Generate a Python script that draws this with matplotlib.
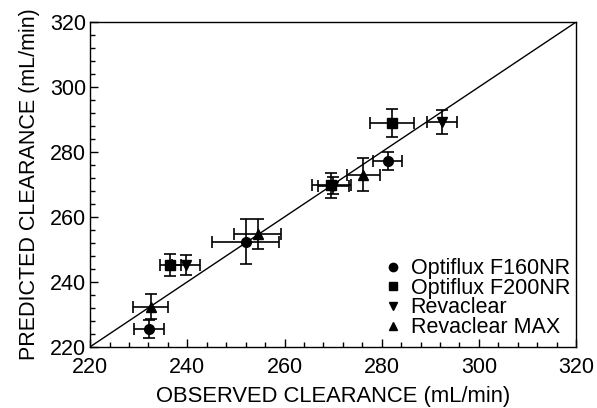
import matplotlib.pyplot as plt
from matplotlib.ticker import MultipleLocator

plt.rcParams['font.family'] = ['Liberation Sans', 'DejaVu Sans']

# observed / predicted clearance (mL/min) with error bars
f160_obs = [232.2, 252.0, 281.2]
f160_pred = [225.5, 252.4, 277.2]
f160_xerr = [3.1, 6.9, 2.9]
f160_yerr = [2.8, 7.0, 2.7]

f200_obs = [236.5, 269.6, 282.1]
f200_pred = [245.1, 269.7, 288.9]
f200_xerr = [2.2, 4.0, 4.6]
f200_yerr = [3.4, 3.8, 4.2]

reva_obs = [239.8, 270.0, 292.4]
reva_pred = [245.2, 269.6, 289.1]
reva_xerr = [2.9, 3.2, 3.1]
reva_yerr = [3.0, 2.7, 3.7]

revamax_obs = [232.5, 254.5, 276.2]
revamax_pred = [232.4, 254.6, 273.0]
revamax_xerr = [3.6, 4.8, 3.4]
revamax_yerr = [3.9, 4.6, 5.0]

fig = plt.figure(figsize=(5.97, 4.08), dpi=100)
ax = fig.add_axes([0.151, 0.150, 0.814, 0.796])

# line of identity
ax.plot([220, 320], [220, 320], color='black', lw=1.0, zorder=1)

series = [
    (f160_obs, f160_pred, f160_xerr, f160_yerr, 'o', 'Optiflux F160NR'),
    (f200_obs, f200_pred, f200_xerr, f200_yerr, 's', 'Optiflux F200NR'),
    (reva_obs, reva_pred, reva_xerr, reva_yerr, 'v', 'Revaclear'),
    (revamax_obs, revamax_pred, revamax_xerr, revamax_yerr, '^', 'Revaclear MAX'),
]
for xs, ys, xe, ye, m, name in series:
    ax.errorbar(xs, ys, xerr=xe, yerr=ye, fmt=m, color='black', ms=7,
                elinewidth=1.2, capsize=4.5, capthick=1.2, label=name, zorder=3)

ax.set_xlim(220, 320)
ax.set_ylim(220, 320)
ax.xaxis.set_major_locator(MultipleLocator(20))
ax.yaxis.set_major_locator(MultipleLocator(20))
ax.xaxis.set_minor_locator(MultipleLocator(4))
ax.yaxis.set_minor_locator(MultipleLocator(4))
ax.tick_params(which='both', direction='in', top=False, right=False,
               labelsize=15.5, width=1.0, pad=3)
ax.tick_params(axis='x', which='both', pad=7)
ax.tick_params(which='major', length=6)
ax.tick_params(which='minor', length=3.5)
for s in ax.spines.values():
    s.set_linewidth(1.0)

ax.set_xlabel('OBSERVED CLEARANCE (mL/min)', fontsize=15.8, labelpad=6)
ax.set_ylabel('PREDICTED CLEARANCE (mL/min)', fontsize=15.5, labelpad=7)

# legend markers only, no error bars
handles = [plt.Line2D([], [], ls='', marker=m, color='black', ms=6)
           for _, _, _, _, m, _ in series]
labels = [name for *_, name in series]
ax.legend(handles, labels, loc='lower right', frameon=False, fontsize=15.5,
          handletextpad=0.4, labelspacing=-0.06, borderaxespad=0.0,
          handlelength=0.8, bbox_to_anchor=(1.005, 0.0))

plt.savefig('out.png', dpi=100)
